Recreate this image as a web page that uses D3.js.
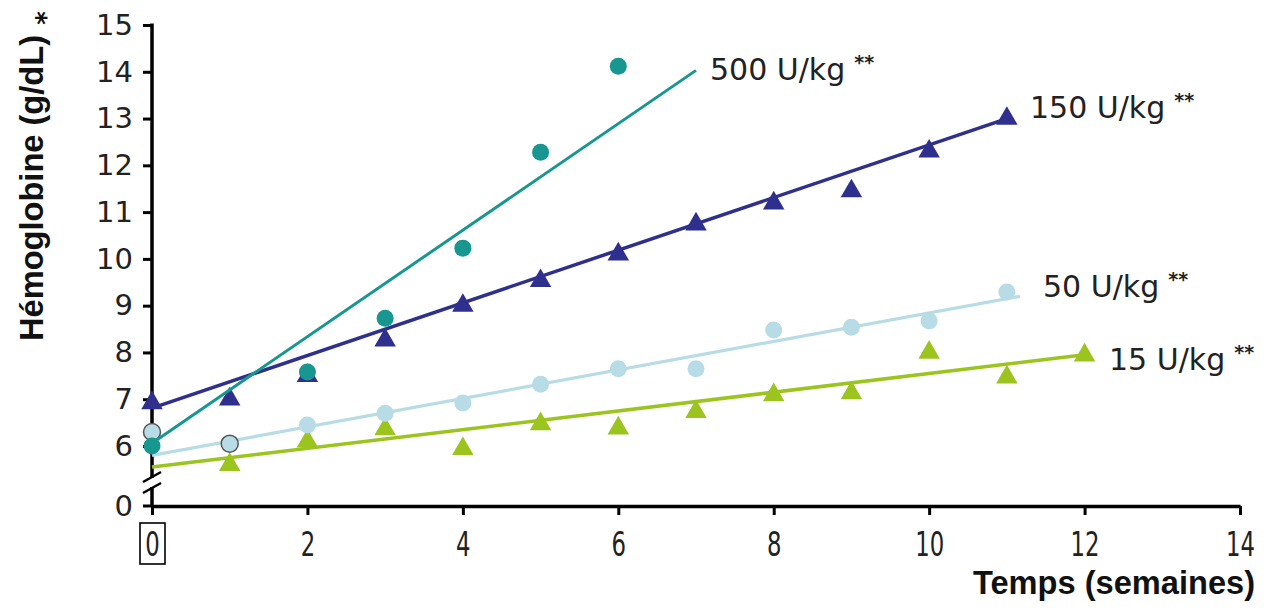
<!DOCTYPE html>
<html><head><meta charset="utf-8">
<script src="https://cdn.jsdelivr.net/npm/d3@7"></script>
<style>body{margin:0;background:#fff}svg{display:block}</style>
</head><body>
<svg id="c" width="1268" height="611"></svg>
<script>
// ---- data ----
const xTicks = [0,2,4,6,8,10,12,14];
const yTicks = [6,7,8,9,10,11,12,13,14,15];
const yZeroLabel = "0";
const doseLabels = ["500 U/kg","150 U/kg","50 U/kg","15 U/kg"];
const weeks500 = [0,2,3,4,5,6];
const hb500 = [6.0,7.58,8.73,10.23,12.28,14.12];
const fit500 = [[0,6.06],[7,14.03]];
const weeks150 = [0,1,2,3,4,5,6,7,8,9,10,11];
const hb150 = [6.92,7.0,7.5,8.26,9.0,9.53,10.1,10.74,11.19,11.45,12.3,13.0];
const fit150 = [[0,6.81],[11,13.0]];
const weeks50 = [0,1,2,3,4,5,6,7,8,9,10,11];
const hb50 = [6.3,6.05,6.45,6.7,6.92,7.32,7.65,7.65,8.48,8.54,8.67,9.29];
const fit50 = [[0,5.8],[11.17,9.2]];
const weeks15 = [1,2,3,4,5,6,7,8,9,10,11,12];
const hb15 = [5.6,6.1,6.36,5.94,6.47,6.38,6.73,7.09,7.13,8.0,7.47,7.94];
const fit15 = [[0,5.55],[12,7.95]];
const xTitle = "Temps (semaines)";
const yTitle = "Hémoglobine (g/dL)";

// ---- layout ----
const svg = d3.select("#c");
const x = d3.scaleLinear().domain([0,14]).range([152,1240]);
const y = d3.scaleLinear().domain([6,15]).range([446,25]);
const yBottom = 506; // broken axis: position of "0"

const C = {c500:"#17978f", c150:"#2f2f8e", c50:"#b7dce5", c15:"#9cc41e"};

// x axis
const gx = svg.append("g").attr("transform",`translate(0,${yBottom})`)
  .call(d3.axisBottom(x).tickValues(xTicks).tickSize(9).tickSizeOuter(0).tickFormat(d3.format("d")));
gx.select(".domain").attr("stroke","#000").attr("stroke-width",3.5);
gx.selectAll(".tick line").attr("stroke","#000").attr("stroke-width",3);
gx.selectAll(".tick text").attr("font-family","'DejaVu Sans',sans-serif")
  .attr("font-size",30).attr("fill","#222").attr("y",43.5).attr("dy",0)
  .attr("transform","scale(0.76,1.15)");
const zeroTick = gx.selectAll(".tick").filter(d=>d===0);
zeroTick.append("rect").attr("x",-12.5).attr("y",17).attr("width",25).attr("height",41)
  .attr("fill","none").attr("stroke","#000").attr("stroke-width",1.6);

// y axis
const gy = svg.append("g").attr("transform",`translate(${x(0)},0)`)
  .call(d3.axisLeft(y).tickValues(yTicks).tickSize(9).tickSizeOuter(0).tickFormat(d3.format("d")));
gy.select(".domain").remove();
gy.append("line").attr("x1",0).attr("x2",0).attr("y1",y(15)-1.5).attr("y2",yBottom+1).attr("stroke","#000").attr("stroke-width",3.5);
gy.selectAll(".tick line").attr("stroke","#000").attr("stroke-width",3);
gy.selectAll(".tick text").attr("font-family","'DejaVu Sans',sans-serif").attr("font-size",29).attr("fill","#222").attr("x",-19);
gy.append("line").attr("x1",-9).attr("x2",0).attr("y1",yBottom).attr("y2",yBottom).attr("stroke","#000").attr("stroke-width",3);
gy.append("text").attr("x",-19).attr("y",yBottom).attr("dy","0.35em").attr("text-anchor","end")
  .attr("font-family","'DejaVu Sans',sans-serif").attr("font-size",29).attr("fill","#222").text(yZeroLabel);
// break marks
gy.append("rect").attr("x",-3).attr("y",478).attr("width",6).attr("height",9).attr("fill","#fff");
[477,488].forEach(yy=>{
  gy.append("path").attr("d",`M-9,${yy+5} L9,${yy-5}`).attr("stroke","#000").attr("stroke-width",2.4).attr("fill","none");
});

// titles
svg.append("text").attr("transform","translate(43,188) rotate(-90)").attr("text-anchor","middle")
  .attr("font-family","'Liberation Sans',Arial,sans-serif").attr("font-weight","bold").attr("font-size",34)
  .attr("textLength",306).attr("lengthAdjust","spacingAndGlyphs").attr("fill","#111").text(yTitle);
svg.append("text").attr("transform","translate(46,18) rotate(-90)").attr("text-anchor","middle").attr("dy","0.35em")
  .attr("font-family","'DejaVu Sans',sans-serif").attr("font-weight","bold").attr("font-size",26).attr("fill","#111").text("*");
svg.append("text").attr("x",1255).attr("y",594).attr("text-anchor","end")
  .attr("font-family","'Liberation Sans',Arial,sans-serif").attr("font-weight","bold").attr("font-size",33)
  .attr("textLength",282).attr("lengthAdjust","spacingAndGlyphs").attr("fill","#111").text(xTitle);

// series
const line = d3.line().x(d=>x(d[0])).y(d=>y(d[1]));
const tri = d3.symbol().type(d3.symbolTriangle).size(200);

function drawFit(fit,color,w){
  svg.append("path").attr("d",line(fit)).attr("stroke",color).attr("stroke-width",w).attr("fill","none");
}
function drawCircles(wk,hb,color,outlined){
  svg.append("g").selectAll("circle").data(wk.map((w,i)=>[w,hb[i]])).join("circle")
    .attr("cx",d=>x(d[0])).attr("cy",d=>y(d[1])).attr("r",8.5).attr("fill",color)
    .attr("stroke",(d,i)=>outlined && i<2 ? "#555":"none").attr("stroke-width",1.5);
}
function drawTris(wk,hb,color){
  svg.append("g").selectAll("path").data(wk.map((w,i)=>[w,hb[i]])).join("path")
    .attr("d",tri).attr("transform",d=>`translate(${x(d[0])},${y(d[1])})`).attr("fill",color);
}

drawFit(fit15,C.c15,3.5);
drawTris(weeks15,hb15,C.c15);
drawFit(fit50,C.c50,3.2);
drawCircles(weeks50,hb50,C.c50,true);
drawFit(fit150,C.c150,3.5);
drawTris(weeks150,hb150,C.c150);
drawFit(fit500,C.c500,3);
drawCircles(weeks500,hb500,C.c500,false);

// labels
const labPos = [[710,80],[1030,118],[1043,297],[1109,370]];
doseLabels.forEach((t,i)=>{
  const tx = svg.append("text").attr("x",labPos[i][0]).attr("y",labPos[i][1])
    .attr("font-family","'DejaVu Sans',Verdana,sans-serif").attr("font-size",30).attr("fill","#222");
  tx.append("tspan").text(t);
  tx.append("tspan").attr("dx",9).attr("dy",-11).attr("font-size",19).attr("font-weight","bold").text("**");
});
</script>
</body></html>
